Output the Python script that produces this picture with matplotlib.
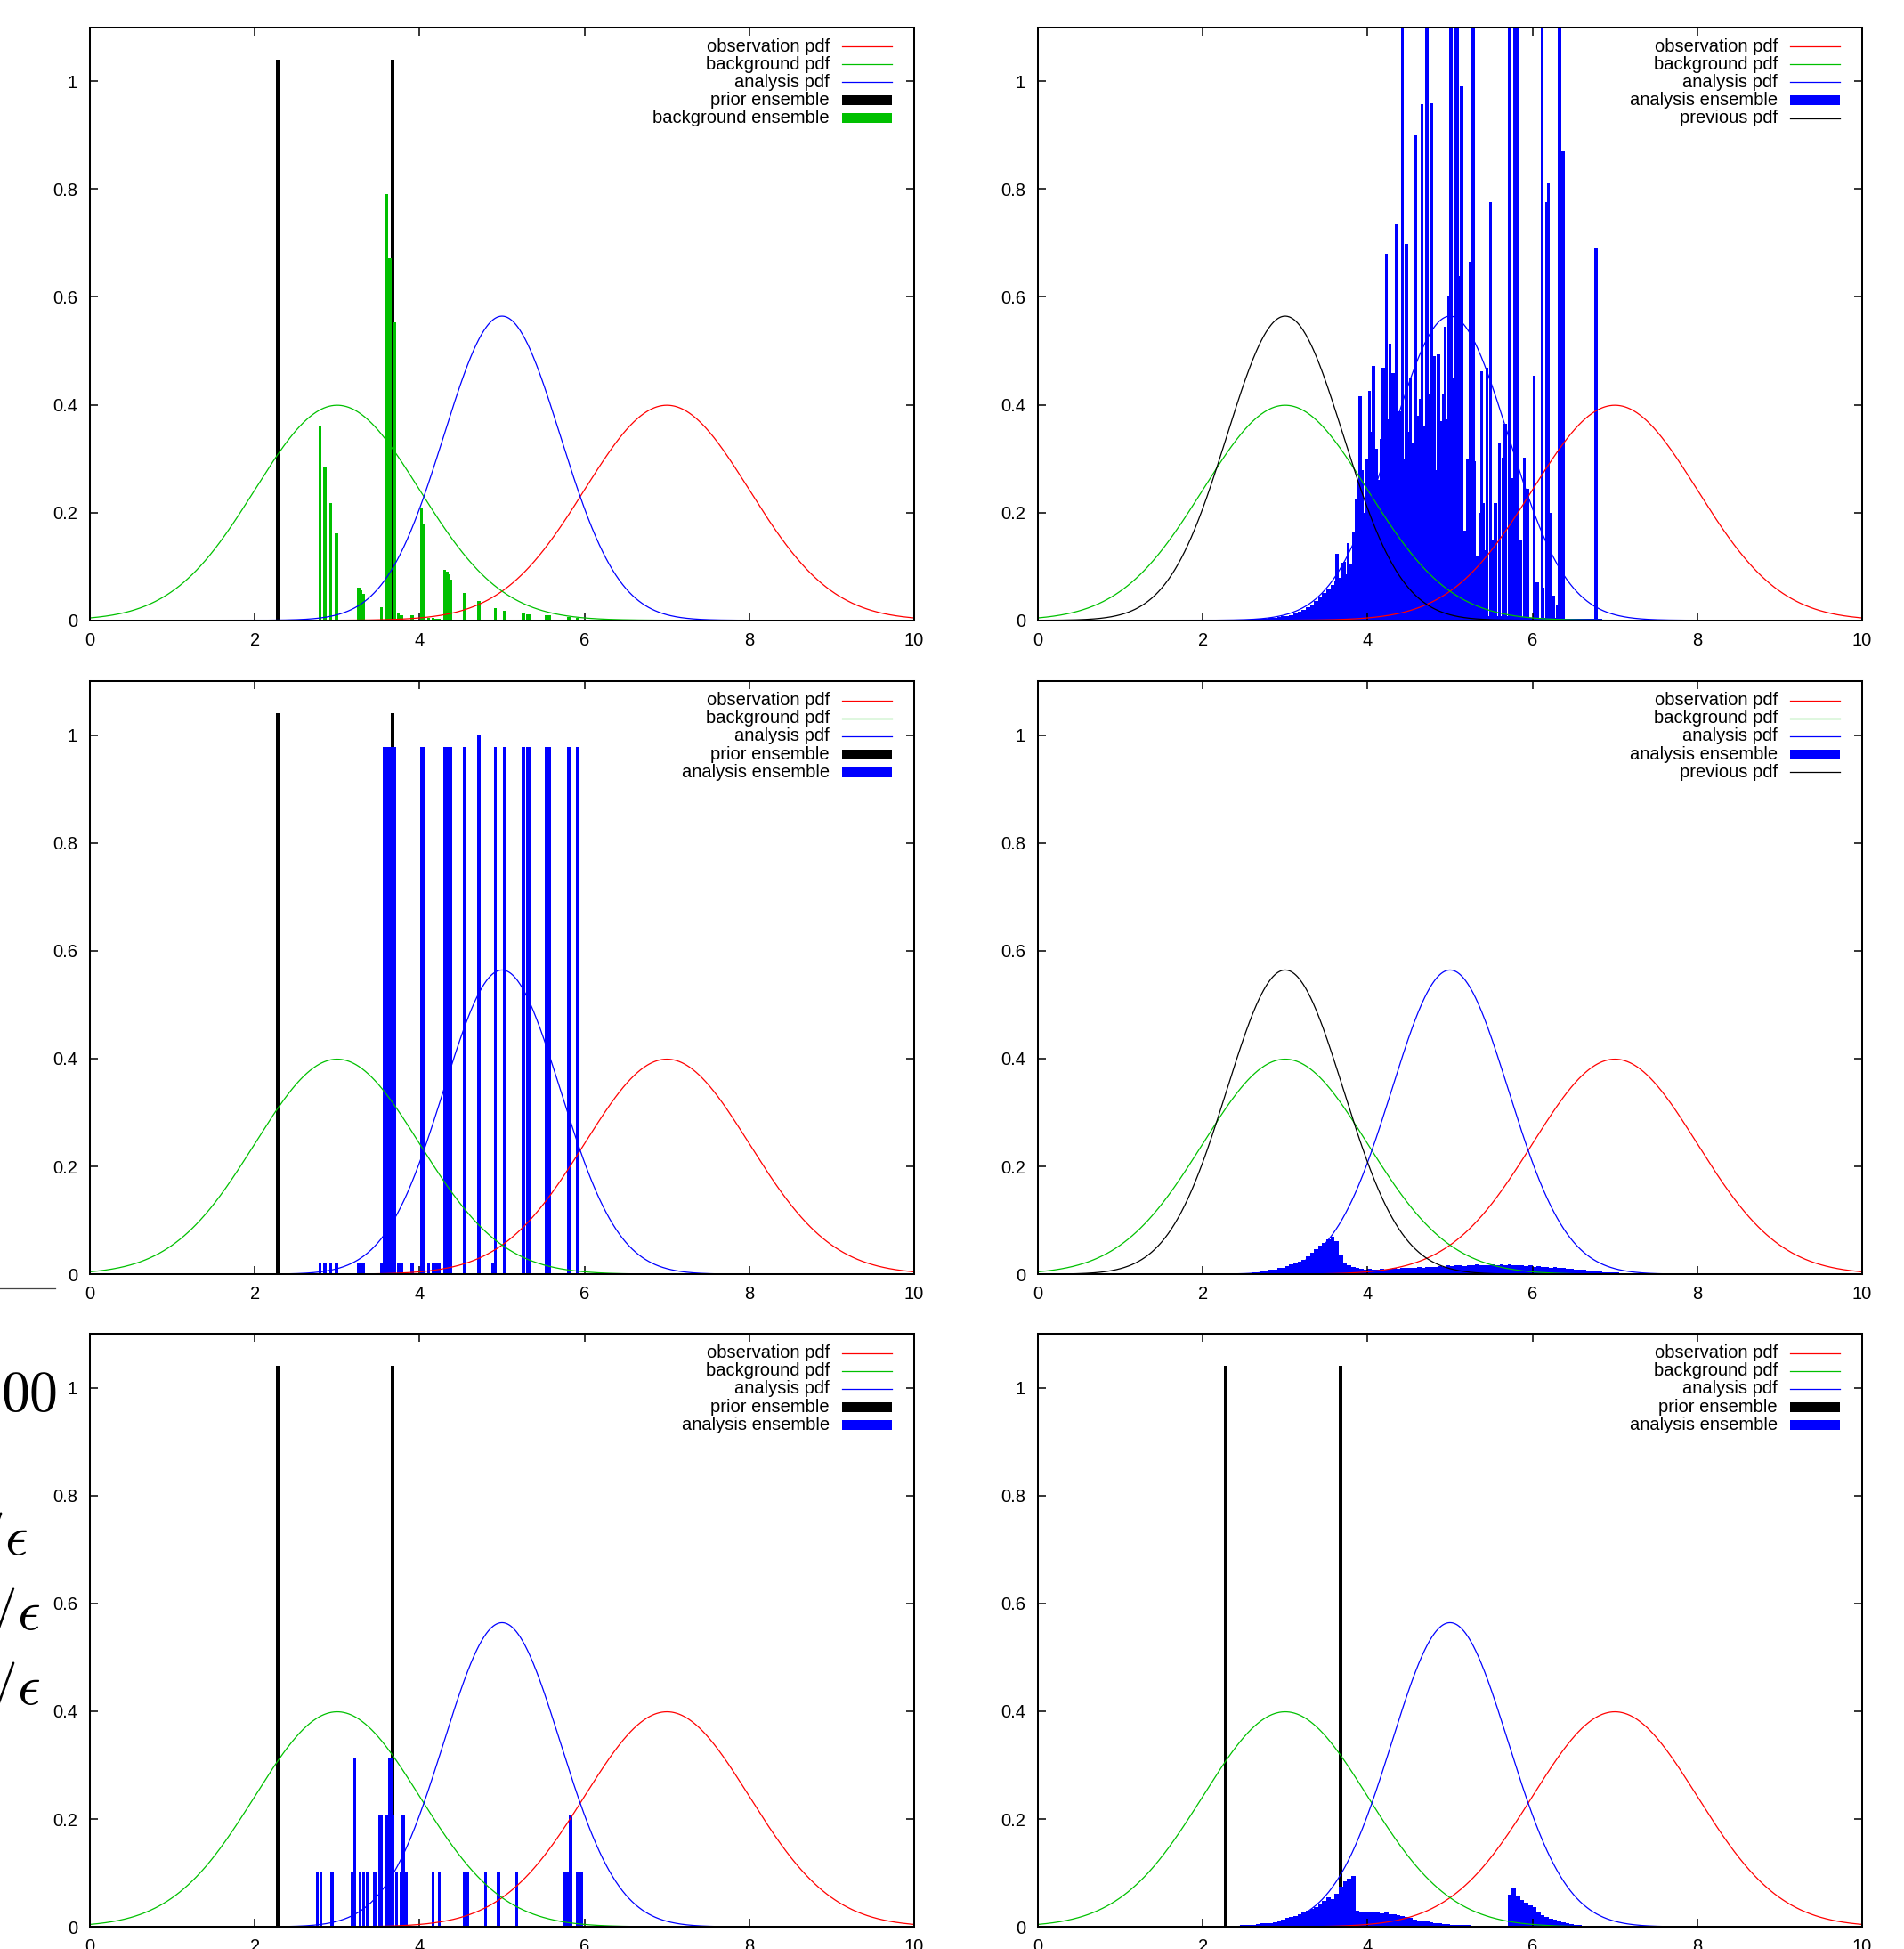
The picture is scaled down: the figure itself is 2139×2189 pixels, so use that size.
import numpy as np
import matplotlib
matplotlib.use("Agg")
import matplotlib.pyplot as plt
from matplotlib.lines import Line2D
from matplotlib.patches import Rectangle
from matplotlib.ticker import FuncFormatter

plt.rcParams['font.family'] = ['Liberation Sans', 'DejaVu Sans']
plt.rcParams['mathtext.fontset'] = 'cm'

W, H, DPI = 2139, 2189, 100
AX_W, AX_H = 926, 666
FS = 14.5
LW = 0.9

RED, GREEN, BLUE, BLACK = '#ff0000', '#00c000', '#0000ff', '#000000'

# ---- parametros de las pdf (media, desviacion) ----
obs_mean, obs_sd = 7.0, 1.0
bg_mean, bg_sd = 3.0, 1.0
ana_mean, ana_sd = 5.0, 0.707
prev_mean, prev_sd = 3.0, 0.707

# ---- ensamble previo (dos impulsos) ----
prior_x = [2.28, 3.67]
prior_h = [1.04, 1.04]

# ---- panel 1: background ensemble ----
bg_ens_x = [2.79, 2.85, 2.92, 2.99, 3.26, 3.29, 3.32, 3.54, 3.60, 3.64, 3.70, 3.74, 3.78,
            3.91, 4.02, 4.05, 4.11, 4.16, 4.20, 4.24, 4.30, 4.33, 4.35, 4.38, 4.54, 4.72,
            4.92, 5.03, 5.26, 5.31, 5.34, 5.54, 5.58, 5.81, 5.91]
bg_ens_h = [0.362, 0.283, 0.217, 0.161, 0.061, 0.055, 0.049, 0.024, 0.79, 0.671, 0.552, 0.012, 0.010,
            0.009, 0.209, 0.180, 0.005, 0.004, 0.003, 0.002, 0.094, 0.090, 0.086, 0.076, 0.051, 0.036,
            0.023, 0.018, 0.012, 0.011, 0.011, 0.009, 0.009, 0.006, 0.005]

# ---- panel 2: analysis ensemble (base + picos) ----
ana2_base_lo = 2.50
ana2_base_h = [0.001, 0.001, 0.002, 0.002, 0.003, 0.003, 0.004, 0.005, 0.006, 0.007,
               0.008, 0.010, 0.013, 0.016, 0.019, 0.024, 0.030, 0.036, 0.042, 0.050,
               0.058, 0.066, 0.072, 0.078, 0.085, 0.090, 0.100, 0.110, 0.120, 0.140,
               0.160, 0.150, 0.190, 0.180, 0.220, 0.200, 0.240, 0.220, 0.250, 0.230,
               0.260, 0.240, 0.270, 0.250, 0.260, 0.240, 0.250, 0.220, 0.240, 0.200,
               0.220, 0.180, 0.160, 0.050, 0.012, 0.010, 0.010, 0.009, 0.009, 0.008,
               0.008, 0.008, 0.007, 0.007, 0.007, 0.006, 0.006, 0.006, 0.005, 0.005,
               0.005, 0.005, 0.004, 0.004, 0.004, 0.004, 0.003, 0.003, 0.003, 0.003,
               0.003, 0.002, 0.002, 0.002, 0.002, 0.002, 0.002, 0.001, 0.001, 0.001,
               0.001, 0.001, 0.001, 0.001, 0.001, 0.001]
ana2_spike_x = [4.42, 4.72, 5.01, 5.06, 5.09, 5.28, 5.72, 5.78, 5.82, 6.12, 6.33,
                3.63, 3.69, 3.72, 3.76, 3.79, 3.83, 3.86, 3.89, 3.91, 3.93, 3.96, 3.99,
                4.02, 4.05, 4.07, 4.11, 4.13, 4.16, 4.19, 4.21, 4.23, 4.24, 4.27, 4.29,
                4.31, 4.35, 4.37, 4.39, 4.45, 4.47, 4.49, 4.52, 4.55, 4.58, 4.61, 4.64,
                4.66, 4.69, 4.75, 4.78, 4.81, 4.83, 4.86, 4.89, 4.92, 4.94, 4.97, 4.99,
                5.03, 5.10, 5.12, 5.14, 5.18, 5.21, 5.25, 5.29, 5.33, 5.36, 5.38, 5.40,
                5.43, 5.45, 5.49, 5.52, 5.55, 5.60, 5.64, 5.67, 5.75, 5.86, 5.90, 5.94,
                6.02, 6.06, 6.13, 6.17, 6.19, 6.22, 6.26, 6.30, 6.37, 6.77]
ana2_spike_h = [1.2, 1.2, 1.2, 1.2, 1.2, 1.2, 1.2, 1.2, 1.2, 1.2, 1.2,
                0.123, 0.107, 0.108, 0.143, 0.104, 0.164, 0.224, 0.26, 0.415, 0.279, 0.2, 0.3,
                0.426, 0.35, 0.472, 0.318, 0.26, 0.337, 0.468, 0.3, 0.68, 0.373, 0.513, 0.33,
                0.458, 0.735, 0.36, 0.388, 0.3, 0.698, 0.349, 0.45, 0.33, 0.899, 0.38, 0.41,
                0.957, 0.36, 0.42, 0.959, 0.49, 0.279, 0.493, 0.37, 0.42, 0.544, 0.373, 0.6,
                0.45, 0.638, 0.5, 0.99, 0.166, 0.3, 0.665, 0.295, 0.12, 0.2, 0.462, 0.217,
                0.13, 0.468, 0.776, 0.15, 0.217, 0.33, 0.302, 0.365, 0.263, 0.15, 0.302, 0.244,
                0.454, 0.07, 0.061, 0.776, 0.81, 0.2, 0.045, 0.03, 0.87, 0.69]

# ---- panel 3: analysis ensemble (pesos) ----
ana3_x = [3.57, 3.60, 3.63, 3.66, 3.70, 4.02, 4.05, 4.30, 4.33, 4.35, 4.38, 4.54, 4.72,
          4.92, 5.03, 5.26, 5.31, 5.34, 5.54, 5.58, 5.81, 5.91,
          2.79, 2.85, 2.92, 2.99, 3.26, 3.29, 3.32, 3.54, 3.74, 3.78, 3.91, 4.11, 4.16,
          4.20, 4.24, 4.89]
ana3_h = [0.978, 0.978, 0.978, 0.978, 0.978, 0.978, 0.978, 0.978, 0.978, 0.978, 0.978, 0.978, 1.0,
          0.978, 0.978, 0.978, 0.978, 0.978, 0.978, 0.978, 0.978, 0.978,
          0.021, 0.021, 0.021, 0.021, 0.021, 0.021, 0.021, 0.021, 0.021, 0.021, 0.021, 0.021, 0.021,
          0.021, 0.021, 0.021]

# ---- panel 4: analysis ensemble (histograma) ----
ana4_lo = 2.40
ana4_h = [0.001, 0.001, 0.002, 0.002, 0.003, 0.004, 0.005, 0.006, 0.008, 0.008,
          0.011, 0.012, 0.015, 0.018, 0.020, 0.024, 0.027, 0.033, 0.039, 0.046,
          0.053, 0.058, 0.064, 0.070, 0.062, 0.036, 0.022, 0.017, 0.014, 0.012,
          0.010, 0.009, 0.010, 0.008, 0.009, 0.010, 0.009, 0.010, 0.011, 0.010,
          0.011, 0.012, 0.011, 0.012, 0.013, 0.012, 0.014, 0.013, 0.014, 0.015,
          0.014, 0.016, 0.015, 0.017, 0.016, 0.015, 0.017, 0.016, 0.018, 0.016,
          0.017, 0.016, 0.018, 0.017, 0.018, 0.017, 0.018, 0.016, 0.017, 0.016,
          0.015, 0.016, 0.014, 0.015, 0.013, 0.014, 0.012, 0.013, 0.011, 0.011,
          0.010, 0.010, 0.009, 0.008, 0.008, 0.007, 0.006, 0.006, 0.005, 0.004,
          0.004, 0.003, 0.003, 0.002, 0.002, 0.001, 0.001, 0.001]

# ---- panel 5: analysis ensemble (remuestreo) ----
ana5_x = [2.756, 2.80, 2.936, 3.18, 3.216, 3.28, 3.324, 3.363, 3.457, 3.518, 3.54, 3.60,
          3.633, 3.654, 3.68, 3.719, 3.777, 3.80, 3.838, 4.162, 4.237, 4.539, 4.582, 4.80,
          4.956, 5.175, 5.758, 5.795, 5.833, 5.916, 5.945, 5.963]
ana5_h = [0.103, 0.103, 0.103, 0.103, 0.313, 0.103, 0.103, 0.103, 0.103, 0.208, 0.208, 0.208,
          0.313, 0.313, 0.208, 0.103, 0.103, 0.208, 0.103, 0.103, 0.103, 0.103, 0.103, 0.103,
          0.103, 0.103, 0.103, 0.103, 0.208, 0.103, 0.103, 0.103]

# ---- panel 6: analysis ensemble (histograma) ----
ana6_lo = 2.25
ana6_h = [0.001, 0.002, 0.002, 0.002, 0.003, 0.003, 0.004, 0.004, 0.005, 0.006,
          0.006, 0.007, 0.009, 0.011, 0.013, 0.016, 0.018, 0.020, 0.023, 0.026,
          0.030, 0.034, 0.037, 0.043, 0.048, 0.055, 0.052, 0.062, 0.075, 0.085,
          0.090, 0.094, 0.030, 0.027, 0.029, 0.028, 0.026, 0.027, 0.025, 0.026,
          0.024, 0.024, 0.021, 0.020, 0.019, 0.016, 0.014, 0.012, 0.011, 0.010,
          0.008, 0.007, 0.006, 0.005, 0.005, 0.004, 0.004, 0.003, 0.003, 0.003,
          0.002, 0.002, 0.002, 0.002, 0.001, 0.001, 0.001, 0.001, 0.001, 0.060,
          0.071, 0.058, 0.050, 0.044, 0.040, 0.037, 0.028, 0.022, 0.019, 0.015,
          0.013, 0.010, 0.008, 0.006, 0.005, 0.004, 0.003, 0.002, 0.002, 0.001,
          0.001, 0.001, 0.001]

HIST_W = 0.05
PRIOR_W = 0.045
ENS_W = 0.036
x_grid = np.linspace(0, 10, 1001)


def pdf(mean, sd):
    return np.exp(-0.5 * ((x_grid - mean) / sd) ** 2) / (sd * np.sqrt(2 * np.pi))


def ejes(ax):
    ax.set_xlim(0, 10)
    ax.set_ylim(0, 1.1)
    ax.set_xticks(range(0, 11, 2))
    ax.set_yticks([0, 0.2, 0.4, 0.6, 0.8, 1])
    ax.yaxis.set_major_formatter(FuncFormatter(lambda v, p: f"{v:g}"))
    ax.tick_params(direction='in', length=6.5, width=1.1, top=True, right=True,
                   labelsize=FS, colors='black')
    ax.tick_params(axis='y', pad=10)
    ax.tick_params(axis='x', pad=9.5)
    for s in ax.spines.values():
        s.set_linewidth(1.45)


def curvas(ax):
    ax.plot(x_grid, pdf(obs_mean, obs_sd), color=RED, lw=LW)
    ax.plot(x_grid, pdf(bg_mean, bg_sd), color=GREEN, lw=LW)
    ax.plot(x_grid, pdf(ana_mean, ana_sd), color=BLUE, lw=LW)


def leyenda(ax, entries):
    for i, (label, kind, color) in enumerate(entries):
        y = 1 - (21.4 + i * 20.2) / AX_H
        ax.text(1 - 94.9 / AX_W, y, label, transform=ax.transAxes, ha='right', va='center',
                fontsize=FS, zorder=10)
        x0, x1 = 1 - 81 / AX_W, 1 - 25.1 / AX_W
        if kind == 'line':
            ax.add_line(Line2D([x0, x1], [y, y], transform=ax.transAxes, color=color,
                               lw=LW, clip_on=False, zorder=10))
        else:
            hh = 11 / AX_H
            ax.add_patch(Rectangle((x0, y - hh / 2), x1 - x0, hh, transform=ax.transAxes,
                                   facecolor=color, lw=0, clip_on=False, zorder=10))


def edges(lo, n):
    return lo + HIST_W * np.arange(n + 1)


fig = plt.figure(figsize=(W / DPI, H / DPI), dpi=DPI)
lefts = [101, 1166]
bottoms = [1492.3, 757.9, 24.9]
axs = [[fig.add_axes([l / W, b / H, AX_W / W, AX_H / H]) for l in lefts] for b in bottoms]

base_entries = [("observation pdf", 'line', RED), ("background pdf", 'line', GREEN),
                ("analysis pdf", 'line', BLUE)]

# panel 1
ax = axs[0][0]
ejes(ax)
curvas(ax)
ax.bar(prior_x, prior_h, width=PRIOR_W, color=BLACK, lw=0)
ax.bar(bg_ens_x, bg_ens_h, width=ENS_W, color=GREEN, lw=0)
leyenda(ax, base_entries + [("prior ensemble", 'box', BLACK), ("background ensemble", 'box', GREEN)])

# panel 2
ax = axs[0][1]
ejes(ax)
curvas(ax)
ax.stairs(ana2_base_h, edges(ana2_base_lo, len(ana2_base_h)), fill=True, color=BLUE, lw=0)
ax.bar(ana2_spike_x, ana2_spike_h, width=ENS_W, color=BLUE, lw=0)
ax.plot(x_grid, pdf(prev_mean, prev_sd), color=BLACK, lw=LW)
leyenda(ax, base_entries + [("analysis ensemble", 'box', BLUE), ("previous pdf", 'line', BLACK)])

# panel 3
ax = axs[1][0]
ejes(ax)
curvas(ax)
ax.bar(prior_x, prior_h, width=PRIOR_W, color=BLACK, lw=0)
ax.bar(ana3_x, ana3_h, width=ENS_W, color=BLUE, lw=0)
leyenda(ax, base_entries + [("prior ensemble", 'box', BLACK), ("analysis ensemble", 'box', BLUE)])

# panel 4
ax = axs[1][1]
ejes(ax)
curvas(ax)
ax.stairs(ana4_h, edges(ana4_lo, len(ana4_h)), fill=True, color=BLUE, lw=0)
ax.plot(x_grid, pdf(prev_mean, prev_sd), color=BLACK, lw=LW)
leyenda(ax, base_entries + [("analysis ensemble", 'box', BLUE), ("previous pdf", 'line', BLACK)])

# panel 5
ax = axs[2][0]
ejes(ax)
curvas(ax)
ax.bar(prior_x, prior_h, width=PRIOR_W, color=BLACK, lw=0)
ax.bar(ana5_x, ana5_h, width=ENS_W, color=BLUE, lw=0)
leyenda(ax, base_entries + [("prior ensemble", 'box', BLACK), ("analysis ensemble", 'box', BLUE)])

# panel 6
ax = axs[2][1]
ejes(ax)
curvas(ax)
ax.bar(prior_x, prior_h, width=PRIOR_W, color=BLACK, lw=0)
ax.stairs(ana6_h, edges(ana6_lo, len(ana6_h)), fill=True, color=BLUE, lw=0)
leyenda(ax, base_entries + [("prior ensemble", 'box', BLACK), ("analysis ensemble", 'box', BLUE)])

# restos de texto del documento que asoman por la izquierda
fig.text(1 / W, 1 - 1585.5 / H, r"$00$", fontsize=46, ha='left', va='baseline')
for xr, yb in [(32, 1745.8), (46, 1829.7), (46, 1913.6)]:
    fig.text(xr / W, 1 - yb / H, r"$1/\epsilon$", fontsize=46, ha='right', va='baseline')
fig.add_artist(Line2D([0, 62 / W], [1 - 1447 / H] * 2, transform=fig.transFigure,
                      color='#444444', lw=0.9))

fig.savefig("out.png", dpi=DPI)
